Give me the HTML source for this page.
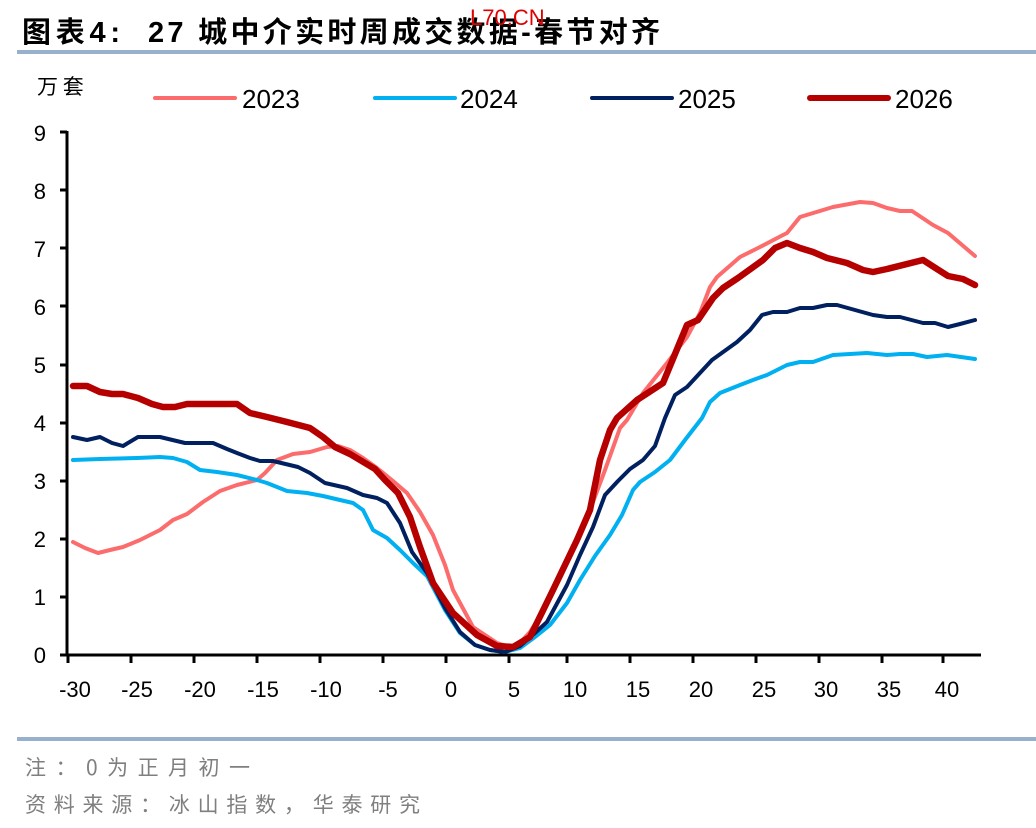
<!DOCTYPE html>
<html><head><meta charset="utf-8"><style>
html,body{margin:0;padding:0;background:#fff;}
body{width:1036px;height:828px;overflow:hidden;position:relative;font-family:"Liberation Sans","Noto Sans CJK SC",sans-serif;}
</style></head><body>
<svg width="1036" height="828" viewBox="0 0 1036 828" xmlns="http://www.w3.org/2000/svg" style="position:absolute;left:0;top:0">
<text x="22" y="42" font-size="29" font-weight="bold" font-family="Liberation Sans,Noto Sans CJK SC,sans-serif" fill="#000" textLength="98" lengthAdjust="spacing">图表4:</text>
<text x="148" y="42" font-size="29" font-weight="bold" font-family="Liberation Sans,Noto Sans CJK SC,sans-serif" fill="#000" textLength="512" lengthAdjust="spacing">27 城中介实时周成交数据-春节对齐</text>
<text x="470" y="25" font-size="22" fill="#e00000" font-family="Liberation Sans,sans-serif">L70.CN</text>
<rect x="17" y="50" width="1019" height="4" fill="#97b0cc"/>
<rect x="17" y="737" width="1019" height="4" fill="#97b0cc"/>
<text x="37" y="94" font-size="21" fill="#000" font-family="Noto Sans CJK SC,sans-serif">万 套</text>
<g stroke-linecap="round">
<line x1="155" y1="98" x2="235" y2="98" stroke="#fc6c6c" stroke-width="4"/>
<line x1="375" y1="98" x2="455" y2="98" stroke="#00b0f0" stroke-width="4"/>
<line x1="592" y1="98" x2="672" y2="98" stroke="#002060" stroke-width="4"/>
<line x1="810" y1="98" x2="888" y2="98" stroke="#b60000" stroke-width="6"/>
</g>
<g font-size="26" fill="#000">
<text x="242" y="108">2023</text><text x="460" y="108">2024</text><text x="678" y="108">2025</text><text x="895" y="108">2026</text>
</g>
<g font-size="22" fill="#000" text-anchor="end">
<text x="46" y="663">0</text><text x="46" y="605">1</text><text x="46" y="547">2</text><text x="46" y="489">3</text><text x="46" y="431">4</text><text x="46" y="373">5</text><text x="46" y="315">6</text><text x="46" y="257">7</text><text x="46" y="199">8</text><text x="46" y="141">9</text>
</g>
<g stroke="#000" stroke-width="3">
<line x1="67" y1="131" x2="67" y2="656"/>
<line x1="60" y1="655" x2="981" y2="655"/>
<line x1="60" y1="597" x2="67" y2="597"/><line x1="60" y1="539" x2="67" y2="539"/><line x1="60" y1="481" x2="67" y2="481"/><line x1="60" y1="423" x2="67" y2="423"/><line x1="60" y1="365" x2="67" y2="365"/><line x1="60" y1="306" x2="67" y2="306"/><line x1="60" y1="248" x2="67" y2="248"/><line x1="60" y1="190" x2="67" y2="190"/><line x1="60" y1="132" x2="67" y2="132"/>
<line x1="68" y1="655" x2="68" y2="663"/><line x1="131" y1="655" x2="131" y2="663"/><line x1="194" y1="655" x2="194" y2="663"/><line x1="257" y1="655" x2="257" y2="663"/><line x1="320" y1="655" x2="320" y2="663"/><line x1="383" y1="655" x2="383" y2="663"/><line x1="446" y1="655" x2="446" y2="663"/><line x1="509" y1="655" x2="509" y2="663"/><line x1="567" y1="655" x2="567" y2="663"/><line x1="630" y1="655" x2="630" y2="663"/><line x1="693" y1="655" x2="693" y2="663"/><line x1="756" y1="655" x2="756" y2="663"/><line x1="819" y1="655" x2="819" y2="663"/><line x1="882" y1="655" x2="882" y2="663"/><line x1="943" y1="655" x2="943" y2="663"/>
</g>
<g font-size="22" fill="#000" text-anchor="middle">
<text x="75" y="697">-30</text><text x="137" y="697">-25</text><text x="200" y="697">-20</text><text x="263" y="697">-15</text><text x="326" y="697">-10</text><text x="388" y="697">-5</text><text x="451" y="697">0</text><text x="514" y="697">5</text><text x="575" y="697">10</text><text x="638" y="697">15</text><text x="701" y="697">20</text><text x="764" y="697">25</text><text x="826" y="697">30</text><text x="889" y="697">35</text><text x="947" y="697">40</text>
</g>
<g fill="none" stroke-linejoin="round" stroke-linecap="round">
<polyline stroke="#fc6c6c" stroke-width="4" points="73,542 85,548 98,553 110,550 123,547 140,540 160,530 173,520 187,514 203,502 220,491 237,485 257,480 265,473 277,460 293,454 310,452 327,447 338,446 350,450 363,458 377,468 393,481 407,493 420,512 433,535 445,565 453,590 473,627 497,643 510,647 518,645 530,632 545,608 560,578 575,545 590,510 605,470 620,428 627,420 643,393 667,363 687,337 700,313 710,287 717,277 740,257 760,247 783,235 787,233 800,217 833,207 860,202 873,203 887,208 900,211 912,211 933,225 948,233 975,256"/>
<polyline stroke="#00b0f0" stroke-width="4" points="73,460 100,459 137,458 160,457 173,458 187,462 200,470 217,472 237,475 257,480 267,483 287,491 307,493 323,496 340,500 353,503 363,510 373,530 387,538 400,550 413,563 427,576 445,610 460,633 475,645 490,650 505,652 520,648 535,637 550,625 567,603 580,580 595,556 610,535 622,515 633,490 640,482 655,472 670,460 685,440 702,418 710,402 720,393 740,385 753,380 767,375 787,365 800,362 813,362 833,355 867,353 887,355 900,354 913,354 927,357 947,355 975,359"/>
<polyline stroke="#002060" stroke-width="4" points="73,437 87,440 100,437 112,443 123,446 138,437 160,437 185,443 213,443 227,449 237,453 250,458 260,461 273,461 298,467 310,473 325,483 347,488 363,495 377,498 387,503 400,523 412,552 427,573 445,608 460,632 475,645 490,650 505,652 520,646 535,633 547,622 567,585 580,555 593,527 605,495 618,481 630,469 643,460 655,446 665,418 675,395 687,387 712,360 737,342 750,330 762,315 773,312 787,312 800,308 813,308 827,305 837,305 873,315 887,317 900,317 923,323 935,323 948,327 960,324 975,320"/>
<polyline stroke="#b60000" stroke-width="6.5" points="73,386 87,386 100,392 112,394 123,394 138,398 152,404 163,407 175,407 187,404 237,404 250,413 267,417 287,422 310,428 323,437 335,447 350,454 360,460 375,469 385,480 398,493 410,517 420,547 433,583 453,613 477,635 497,646 513,647 530,637 553,590 577,540 590,510 600,460 610,430 617,418 637,400 663,383 687,325 698,320 713,298 723,288 738,278 763,260 775,248 787,243 800,248 813,252 827,258 847,263 863,270 873,272 887,269 923,260 937,269 948,276 963,279 975,285"/>
</g>
<text x="25" y="775" font-size="21" fill="#7f7f7f" font-family="Noto Sans CJK SC,sans-serif" textLength="225" lengthAdjust="spacing">注：0为正月初一</text>
<text x="25" y="812" font-size="21" fill="#7f7f7f" font-family="Noto Sans CJK SC,sans-serif" textLength="395" lengthAdjust="spacing">资料来源：冰山指数，华泰研究</text>
</svg>
</body></html>
